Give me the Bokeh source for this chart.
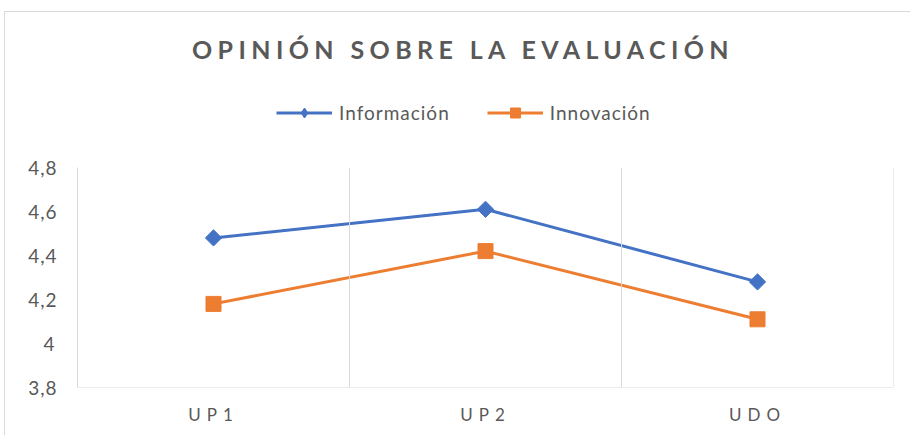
import math
from bokeh.plotting import figure
from bokeh.layouts import column
from bokeh.core.properties import value
from bokeh.models import (ColumnDataSource, FactorRange, Range1d, FixedTicker, Span,
                          Label, Legend, LegendItem, InlineStyleSheet)
from bokeh.embed import file_html
from bokeh.resources import INLINE

# ---------------- data ----------------
title_text = "OPINIÓN SOBRE LA EVALUACIÓN"
categories = ["UP1", "UP2", "UDO"]
series_names = ["Información", "Innovación"]
informacion = [4.48, 4.61, 4.28]
innovacion = [4.18, 4.42, 4.11]
y_ticks = [3.8, 4.0, 4.2, 4.4, 4.6, 4.8]
y_tick_labels = ["3,8", "4", "4,2", "4,4", "4,6", "4,8"]
y_min, y_max = 3.8, 4.8

# ---------------- style ----------------
BLUE = "#4472C4"
ORANGE = "#ED7D31"
TEXT = "#595959"
GRID = "#D9D9D9"
FONT = "Lato"

W = 905
H_TITLE, H_LEG, H_MAIN, H_X = 68, 60, 260, 35
BL, BR = 72, 17          # left / right border of the plotting frame
BT, BB = 27, 13          # top / bottom border in main figure


def spacing_css(px):
    return InlineStyleSheet(css=":host { letter-spacing: %spx; }" % px)


def bare_fig(h, x_range=None, y_range=None, px=0, **kw):
    f = figure(width=W, height=h, output_backend="svg", toolbar_location=None,
               x_range=x_range if x_range is not None else Range1d(0, W),
               y_range=y_range if y_range is not None else Range1d(0, h),
               x_axis_location=None, y_axis_location=None,
               outline_line_color=None, stylesheets=[spacing_css(px)], **kw)
    f.xgrid.visible = False
    f.ygrid.visible = False
    return f


xr = FactorRange(*categories)
src = ColumnDataSource(dict(cat=categories, info=informacion, inno=innovacion))

# ---------- title ----------
pt = bare_fig(H_TITLE, px=5.4, min_border=0)
pt.add_layout(Label(x=313, y=32, x_units="screen", y_units="screen", text=title_text,
                    text_align="center", text_baseline="alphabetic",
                    text_font=FONT, text_font_style="bold", text_font_size="25px",
                    text_color=TEXT))

# ---------- legend ----------
pl = bare_fig(H_LEG, x_range=FactorRange(*categories), y_range=Range1d(0, 1), px=1,
              min_border=0)
ll1 = pl.line("cat", "info", source=src, line_color=BLUE, line_width=3)
lm1 = pl.scatter("cat", "info", source=src, marker="diamond", size=10,
                 fill_color=BLUE, line_color=BLUE)
ll2 = pl.line("cat", "inno", source=src, line_color=ORANGE, line_width=3)
lm2 = pl.scatter("cat", "inno", source=src, marker="square", size=10,
                 fill_color=ORANGE, line_color=ORANGE)
legend = Legend(items=[LegendItem(label=series_names[0], renderers=[ll1, lm1]),
                       LegendItem(label=series_names[1], renderers=[ll2, lm2])],
                location=(199, 15), orientation="horizontal",
                border_line_color=None, background_fill_alpha=0,
                padding=0, margin=0, glyph_width=56, glyph_height=25,
                label_standoff=7, spacing=37,
                label_text_font=FONT, label_text_font_size="19px",
                label_text_color=TEXT)
pl.add_layout(legend)

# ---------- main plot ----------
p = figure(x_range=xr, y_range=Range1d(y_min, y_max),
           width=W, height=H_MAIN, output_backend="svg", toolbar_location=None,
           x_axis_location=None, min_border_left=BL, min_border_right=BR,
           min_border_top=BT, min_border_bottom=BB, outline_line_color=None,
           stylesheets=[spacing_css(1)])
p.xgrid.visible = False
p.ygrid.visible = False

for loc in [1, 2, 3]:
    p.add_layout(Span(location=loc, dimension="height", line_color=GRID, line_width=1))
p.add_layout(Span(location=y_min, dimension="width", line_color=GRID, line_width=1))

p.line("cat", "info", source=src, line_color=BLUE, line_width=3)
p.scatter("cat", "info", source=src, marker="square", angle=math.pi / 4, size=11.5,
          fill_color=BLUE, line_color=BLUE)
p.line("cat", "inno", source=src, line_color=ORANGE, line_width=3)
p.scatter("cat", "inno", source=src, marker="square", size=15,
          fill_color=ORANGE, line_color=ORANGE)

ya = p.yaxis[0]
ya.ticker = FixedTicker(ticks=y_ticks)
ya.major_label_overrides = {t: s for t, s in zip(y_ticks, y_tick_labels)}
ya.axis_line_color = GRID
ya.major_tick_line_color = None
ya.minor_tick_line_color = None
ya.major_tick_out = 0
ya.major_label_standoff = 23
ya.major_label_text_font = FONT
ya.major_label_text_font_size = "19px"
ya.major_label_text_color = TEXT

# ---------- category labels ----------
px_ = bare_fig(H_X, x_range=xr, y_range=Range1d(0, H_X), px=6,
               min_border_left=BL, min_border_right=BR, min_border_top=0,
               min_border_bottom=0)
px_.text(x="cat", y=21, text="cat", source=src, text_align="center",
         text_baseline="middle", x_offset=-9,
         text_font=value(FONT), text_font_size="17px", text_color=TEXT)

layout = column(pt, pl, p, px_, spacing=0,
                stylesheets=[InlineStyleSheet(css=":host { position: relative; left: 4px; top: 11px; "
                                                  "border-top: 1px solid #d9d9d9; "
                                                  "border-left: 1px solid #d9d9d9; }")])

open("out.html", "w").write(file_html(layout, INLINE))
